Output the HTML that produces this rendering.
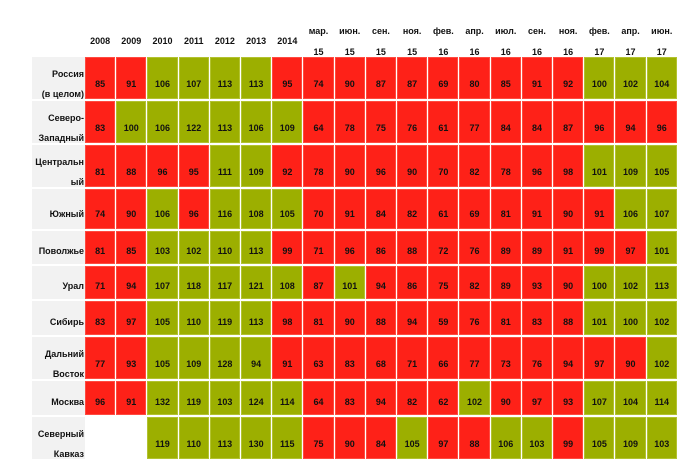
<!DOCTYPE html>
<html><head><meta charset="utf-8"><style>
body{margin:0;width:700px;height:475px;background:#fff;font-family:"Liberation Sans",Arial,sans-serif;font-weight:bold;font-size:9px;color:#111;position:relative;overflow:hidden}
.row{position:absolute;left:32px;width:645px;display:flex}
.lab{width:53px;background:#f2f2f2;text-align:right;padding-right:1px;box-sizing:border-box;display:flex;flex-direction:column;justify-content:flex-end;margin-right:0;line-height:10px}
.cells{display:flex;gap:1px;width:592px;margin-left:0}
.cells div{flex:1;display:flex;align-items:flex-end;justify-content:center;line-height:10px;padding-bottom:8px;box-sizing:border-box}
.t .cells div{padding-bottom:10px}
.r{background:#fe2118;box-shadow:inset 0 0 0 1px #ff4a40}
.g{background:#9caf00;box-shadow:inset 0 0 0 1px #b2c230}
.e{background:#fff}
.hdr{position:absolute;left:85px;width:592px;top:24px;height:34px;display:flex;gap:1px}
.hdr div{flex:1;text-align:center;position:relative}
.hdr .y{position:absolute;left:0;right:0;top:12px}
.hdr .m1{position:absolute;left:0;right:0;top:2px}
.hdr .m2{position:absolute;left:0;right:0;top:23px}
.two{justify-content:space-between;padding-top:12px;padding-bottom:0}
</style></head><body>
<div class="hdr">
<div><span class="y">2008</span></div><div><span class="y">2009</span></div><div><span class="y">2010</span></div><div><span class="y">2011</span></div><div><span class="y">2012</span></div><div><span class="y">2013</span></div><div><span class="y">2014</span></div>
<div><span class="m1">мар.</span><span class="m2">15</span></div><div><span class="m1">июн.</span><span class="m2">15</span></div><div><span class="m1">сен.</span><span class="m2">15</span></div><div><span class="m1">ноя.</span><span class="m2">15</span></div>
<div><span class="m1">фев.</span><span class="m2">16</span></div><div><span class="m1">апр.</span><span class="m2">16</span></div><div><span class="m1">июл.</span><span class="m2">16</span></div><div><span class="m1">сен.</span><span class="m2">16</span></div><div><span class="m1">ноя.</span><span class="m2">16</span></div>
<div><span class="m1">фев.</span><span class="m2">17</span></div><div><span class="m1">апр.</span><span class="m2">17</span></div><div><span class="m1">июн.</span><span class="m2">17</span></div>
</div>

<div class="row t" style="top:57px;height:42px"><div class="lab two"><span>Россия</span><span>(в целом)</span></div><div class="cells">
<div class="r">85</div><div class="r">91</div><div class="g">106</div><div class="g">107</div><div class="g">113</div><div class="g">113</div><div class="r">95</div><div class="r">74</div><div class="r">90</div><div class="r">87</div><div class="r">87</div><div class="r">69</div><div class="r">80</div><div class="r">85</div><div class="r">91</div><div class="r">92</div><div class="g">100</div><div class="g">102</div><div class="g">104</div></div></div>

<div class="row t" style="top:101px;height:42px"><div class="lab two"><span>Северо-</span><span>Западный</span></div><div class="cells">
<div class="r">83</div><div class="g">100</div><div class="g">106</div><div class="g">122</div><div class="g">113</div><div class="g">106</div><div class="g">109</div><div class="r">64</div><div class="r">78</div><div class="r">75</div><div class="r">76</div><div class="r">61</div><div class="r">77</div><div class="r">84</div><div class="r">84</div><div class="r">87</div><div class="r">96</div><div class="r">94</div><div class="r">96</div></div></div>

<div class="row t" style="top:145px;height:42px"><div class="lab two"><span>Центральн</span><span>ый</span></div><div class="cells">
<div class="r">81</div><div class="r">88</div><div class="r">96</div><div class="r">95</div><div class="g">111</div><div class="g">109</div><div class="r">92</div><div class="r">78</div><div class="r">90</div><div class="r">96</div><div class="r">90</div><div class="r">70</div><div class="r">82</div><div class="r">78</div><div class="r">96</div><div class="r">98</div><div class="g">101</div><div class="g">109</div><div class="g">105</div></div></div>

<div class="row t" style="top:189px;height:40px"><div class="lab" style="padding-bottom:10px"><span>Южный</span></div><div class="cells">
<div class="r">74</div><div class="r">90</div><div class="g">106</div><div class="r">96</div><div class="g">116</div><div class="g">108</div><div class="g">105</div><div class="r">70</div><div class="r">91</div><div class="r">84</div><div class="r">82</div><div class="r">61</div><div class="r">69</div><div class="r">81</div><div class="r">91</div><div class="r">90</div><div class="r">91</div><div class="g">106</div><div class="g">107</div></div></div>

<div class="row" style="top:231px;height:33px"><div class="lab" style="padding-bottom:8px"><span>Поволжье</span></div><div class="cells">
<div class="r">81</div><div class="r">85</div><div class="g">103</div><div class="g">102</div><div class="g">110</div><div class="g">113</div><div class="r">99</div><div class="r">71</div><div class="r">96</div><div class="r">86</div><div class="r">88</div><div class="r">72</div><div class="r">76</div><div class="r">89</div><div class="r">89</div><div class="r">91</div><div class="r">99</div><div class="r">97</div><div class="g">101</div></div></div>

<div class="row" style="top:266px;height:33px"><div class="lab" style="padding-bottom:8px"><span>Урал</span></div><div class="cells">
<div class="r">71</div><div class="r">94</div><div class="g">107</div><div class="g">118</div><div class="g">117</div><div class="g">121</div><div class="g">108</div><div class="r">87</div><div class="g">101</div><div class="r">94</div><div class="r">86</div><div class="r">75</div><div class="r">82</div><div class="r">89</div><div class="r">93</div><div class="r">90</div><div class="g">100</div><div class="g">102</div><div class="g">113</div></div></div>

<div class="row" style="top:301px;height:34px"><div class="lab" style="padding-bottom:8px"><span>Сибирь</span></div><div class="cells">
<div class="r">83</div><div class="r">97</div><div class="g">105</div><div class="g">110</div><div class="g">119</div><div class="g">113</div><div class="r">98</div><div class="r">81</div><div class="r">90</div><div class="r">88</div><div class="r">94</div><div class="r">59</div><div class="r">76</div><div class="r">81</div><div class="r">83</div><div class="r">88</div><div class="g">101</div><div class="g">100</div><div class="g">102</div></div></div>

<div class="row t" style="top:337px;height:42px"><div class="lab two"><span>Дальний</span><span>Восток</span></div><div class="cells">
<div class="r">77</div><div class="r">93</div><div class="g">105</div><div class="g">109</div><div class="g">128</div><div class="g">94</div><div class="r">91</div><div class="r">63</div><div class="r">83</div><div class="r">68</div><div class="r">71</div><div class="r">66</div><div class="r">77</div><div class="r">73</div><div class="r">76</div><div class="r">94</div><div class="r">97</div><div class="r">90</div><div class="g">102</div></div></div>

<div class="row" style="top:381px;height:34px"><div class="lab" style="padding-bottom:8px"><span>Москва</span></div><div class="cells">
<div class="r">96</div><div class="r">91</div><div class="g">132</div><div class="g">119</div><div class="g">103</div><div class="g">124</div><div class="g">114</div><div class="r">64</div><div class="r">83</div><div class="r">94</div><div class="r">82</div><div class="r">62</div><div class="g">102</div><div class="r">90</div><div class="r">97</div><div class="r">93</div><div class="g">107</div><div class="g">104</div><div class="g">114</div></div></div>

<div class="row t" style="top:417px;height:42px"><div class="lab two"><span>Северный</span><span>Кавказ</span></div><div class="cells">
<div class="e"></div><div class="e"></div><div class="g">119</div><div class="g">110</div><div class="g">113</div><div class="g">130</div><div class="g">115</div><div class="r">75</div><div class="r">90</div><div class="r">84</div><div class="g">105</div><div class="r">97</div><div class="r">88</div><div class="g">106</div><div class="g">103</div><div class="r">99</div><div class="g">105</div><div class="g">109</div><div class="g">103</div></div></div>
</body></html>
